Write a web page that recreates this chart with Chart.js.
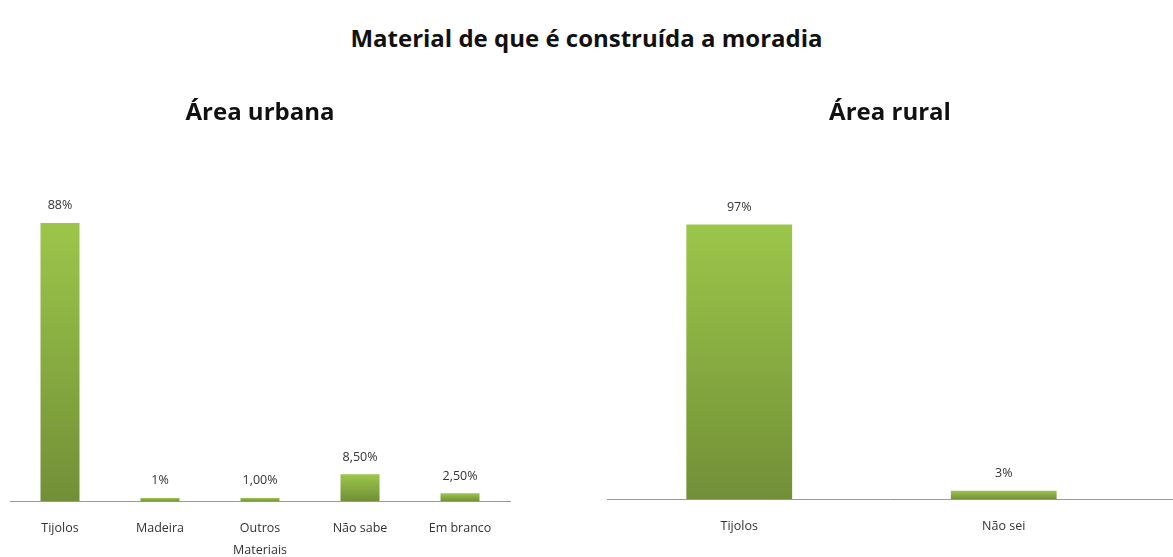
<!DOCTYPE html>
<html>
<head>
<meta charset="utf-8">
<script src="https://cdn.jsdelivr.net/npm/chart.js@4.4.1/dist/chart.umd.min.js"></script>
<style>
  body { margin: 0; width: 1173px; height: 557px; overflow: hidden; background: #fff; position: relative; font-family: "Open Sans", sans-serif; }
  #title { position: absolute; top: 21px; left: 0; width: 1173px; text-align: center; font-weight: bold; font-size: 24px; color: #111; }
  .box { position: absolute; }
</style>
</head>
<body>
<div id="title">Material de que é construída a moradia</div>
<div class="box" style="left:0;top:70px;width:520px;height:507px"><canvas id="urbana"></canvas></div>
<div class="box" style="left:597px;top:70px;width:576px;height:483px"><canvas id="rural"></canvas></div>
<script>
// Área urbana
var urbanCats = [['Tijolos'], ['Madeira'], ['Outros', 'Materiais'], ['Não sabe'], ['Em branco']];
var urbanVals = [88, 1, 1, 8.5, 2.5];
var urbanLabels = ['88%', '1%', '1,00%', '8,50%', '2,50%'];

// Área rural
var ruralCats = ['Tijolos', 'Não sei'];
var ruralVals = [97, 3];
var ruralLabels = ['97%', '3%'];

function barFill(c) {
  var chart = c.chart;
  if (!chart.chartArea || !c.parsed) return '#8ab43f';
  var y = chart.scales.y;
  var top = y.getPixelForValue(c.parsed.y), bot = y.getPixelForValue(0);
  if (!isFinite(top) || !isFinite(bot) || top === bot) return '#8ab43f';
  var g = chart.ctx.createLinearGradient(0, top, 0, bot);
  g.addColorStop(0, '#9cc64a');
  g.addColorStop(1, '#728f37');
  return g;
}

var valueLabels = {
  id: 'valueLabels',
  afterDatasetsDraw: function(chart, args, opts) {
    var ctx = chart.ctx;
    var meta = chart.getDatasetMeta(0);
    ctx.save();
    ctx.font = '12.5px "Open Sans", sans-serif';
    ctx.fillStyle = '#333';
    ctx.textAlign = 'center';
    ctx.textBaseline = 'bottom';
    meta.data.forEach(function(bar, i) {
      ctx.fillText(opts.texts[i], bar.x, bar.y - 11);
    });
    ctx.restore();
  }
};

var tickFont = { family: '"Open Sans", sans-serif', size: 12.5, lineHeight: 1.75 };
var subTitle = function(text) {
  return { display: true, text: text, color: '#111', font: { family: '"Open Sans", sans-serif', size: 24, weight: 'bold', lineHeight: 1.2 }, padding: { top: 29, bottom: 57.2 } };
};

new Chart(document.getElementById('urbana'), {
  type: 'bar',
  data: {
    labels: urbanCats,
    datasets: [{ data: urbanVals, backgroundColor: barFill, categoryPercentage: 1, barPercentage: 0.39 }]
  },
  options: {
    responsive: true,
    maintainAspectRatio: false,
    animation: false,
    layout: { padding: { left: 10, right: 10 } },
    plugins: {
      legend: { display: false },
      tooltip: { enabled: false },
      title: subTitle('Área urbana'),
      valueLabels: { texts: urbanLabels }
    },
    scales: {
      x: {
        grid: { display: false, drawTicks: false },
        border: { display: true, color: '#9a9a9a', width: 1 },
        ticks: { color: '#333', font: tickFont, padding: 16, maxRotation: 0 }
      },
      y: { display: false, min: 0, max: 100 }
    }
  },
  plugins: [valueLabels]
});

new Chart(document.getElementById('rural'), {
  type: 'bar',
  data: {
    datasets: [{
      data: ruralVals.map(function(v, i) { return { x: i, y: v }; }),
      backgroundColor: barFill, categoryPercentage: 1, barPercentage: 0.4
    }]
  },
  options: {
    responsive: true,
    maintainAspectRatio: false,
    animation: false,
    layout: { padding: { left: 10, right: 0 } },
    plugins: {
      legend: { display: false },
      tooltip: { enabled: false },
      title: subTitle('Área rural'),
      valueLabels: { texts: ruralLabels }
    },
    scales: {
      x: {
        type: 'linear',
        offset: false,
        min: -0.5,
        max: 1.64,
        afterBuildTicks: function(scale) {
          scale.ticks = ruralCats.map(function(c, i) { return { value: i }; });
        },
        grid: { display: false, drawTicks: false, offset: false },
        border: { display: true, color: '#9a9a9a', width: 1 },
        ticks: {
          color: '#333', font: tickFont, padding: 16, maxRotation: 0,
          callback: function(v) { return ruralCats[v]; }
        }
      },
      y: { display: false, min: 0, max: 111 }
    }
  },
  plugins: [valueLabels]
});
</script>
</body>
</html>
